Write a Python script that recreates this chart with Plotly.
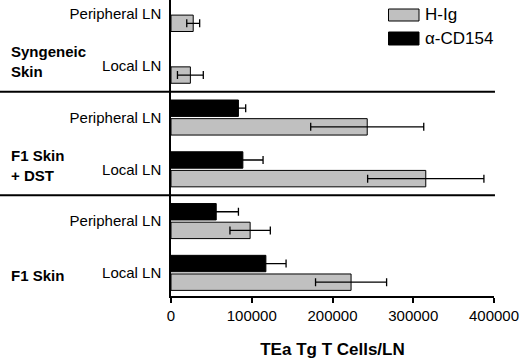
import plotly.graph_objects as go

# ---- data ----
row_ids = ["syn_per", "syn_loc", "dst_per", "dst_loc", "f1_per", "f1_loc"]
row_labels = ["Peripheral LN", "Local LN", "Peripheral LN", "Local LN", "Peripheral LN", "Local LN"]
group_labels = ["Syngeneic<br>Skin", "F1 Skin<br>+ DST", "F1 Skin"]
group_label_rows = ["syn_loc", "dst_loc", "f1_loc"]

hig_values = [27500, 24000, 243000, 315500, 98000, 223000]
hig_errors = [8000, 16000, 70000, 72000, 25000, 44000]
cd154_values = [None, None, 83500, 89000, 56000, 117500]
cd154_errors = [None, None, 9000, 25000, 27500, 25000]

x_ticks = [0, 100000, 200000, 300000, 400000]

FONT = "Liberation Sans, Arial, sans-serif"
GRAY = "#c0c0c0"

fig = go.Figure()
fig.add_trace(go.Bar(
    y=row_ids, x=cd154_values, orientation="h", name="α-CD154",
    marker=dict(color="black", line=dict(color="black", width=1)),
    error_x=dict(type="data", array=cd154_errors, color="black", thickness=1.3, width=4),
))
fig.add_trace(go.Bar(
    y=row_ids, x=hig_values, orientation="h", name="H-Ig",
    marker=dict(color=GRAY, line=dict(color="black", width=1)),
    error_x=dict(type="data", array=hig_errors, color="black", thickness=1.3, width=4),
))

# group labels
for lab, row in zip(group_labels, group_label_rows):
    shift = 4 if "<br>" in lab else -3
    fig.add_annotation(x=-0.5015, xref="paper", y=row, yref="y", text="<b>" + lab + "</b>",
                       xanchor="left", yanchor="middle", align="left", showarrow=False,
                       yshift=shift, font=dict(family=FONT, size=15, color="black"))

# separators between groups
for y_sep in [1.5, 3.5]:
    fig.add_shape(type="line", xref="paper", yref="y", x0=-0.53, x1=1.003, y0=y_sep, y1=y_sep,
                  line=dict(color="black", width=2))

# manual legend
leg = [("H-Ig", GRAY, 0.0), ("α-CD154", "black", 1.0)]
for name, col, i in leg:
    y_top = 1 - (9 + 23 * i) / 296
    y_bot = 1 - (21 + 24 * i) / 296
    fig.add_shape(type="rect", xref="paper", yref="paper",
                  x0=(388.5 - 171) / 323, x1=(419 - 171) / 323, y0=y_bot, y1=y_top,
                  fillcolor=col, line=dict(color="black", width=1))
    fig.add_annotation(xref="paper", yref="paper", x=(423 - 171) / 323, y=(y_top + y_bot) / 2,
                       text=name, showarrow=False, xanchor="left", yanchor="middle",
                       font=dict(family=FONT, size=17, color="black"))

fig.update_layout(
    width=520, height=362,
    margin=dict(l=171, r=26, t=0, b=66),
    paper_bgcolor="white", plot_bgcolor="white",
    barmode="group", bargap=0.28, bargroupgap=0.12,
    showlegend=False,
    font=dict(family=FONT, color="black", size=15),
)
fig.update_xaxes(
    range=[0, 400000], tickvals=x_ticks, ticktext=[str(v) for v in x_ticks],
    showgrid=False, zeroline=False, showline=True, linecolor="black", linewidth=1.5,
    ticks="outside", ticklen=5, tickwidth=1.5, tickcolor="black",
    tickfont=dict(family=FONT, size=15, color="black"),
    title=dict(text="<b>TEa Tg T Cells/LN</b>", font=dict(family=FONT, size=17, color="black"), standoff=20),
)
fig.update_yaxes(
    type="category", categoryarray=row_ids, range=[5.447, -0.27],
    tickvals=row_ids, ticktext=row_labels,
    showgrid=False, zeroline=False, showline=True, linecolor="black", linewidth=1.5,
    ticks="", ticklabelstandoff=5,
    tickfont=dict(family=FONT, size=15, color="black"),
)

fig.write_html("out.html", config={"displayModeBar": False},
               post_script="document.body.style.margin='0';document.body.style.overflow='hidden';")
